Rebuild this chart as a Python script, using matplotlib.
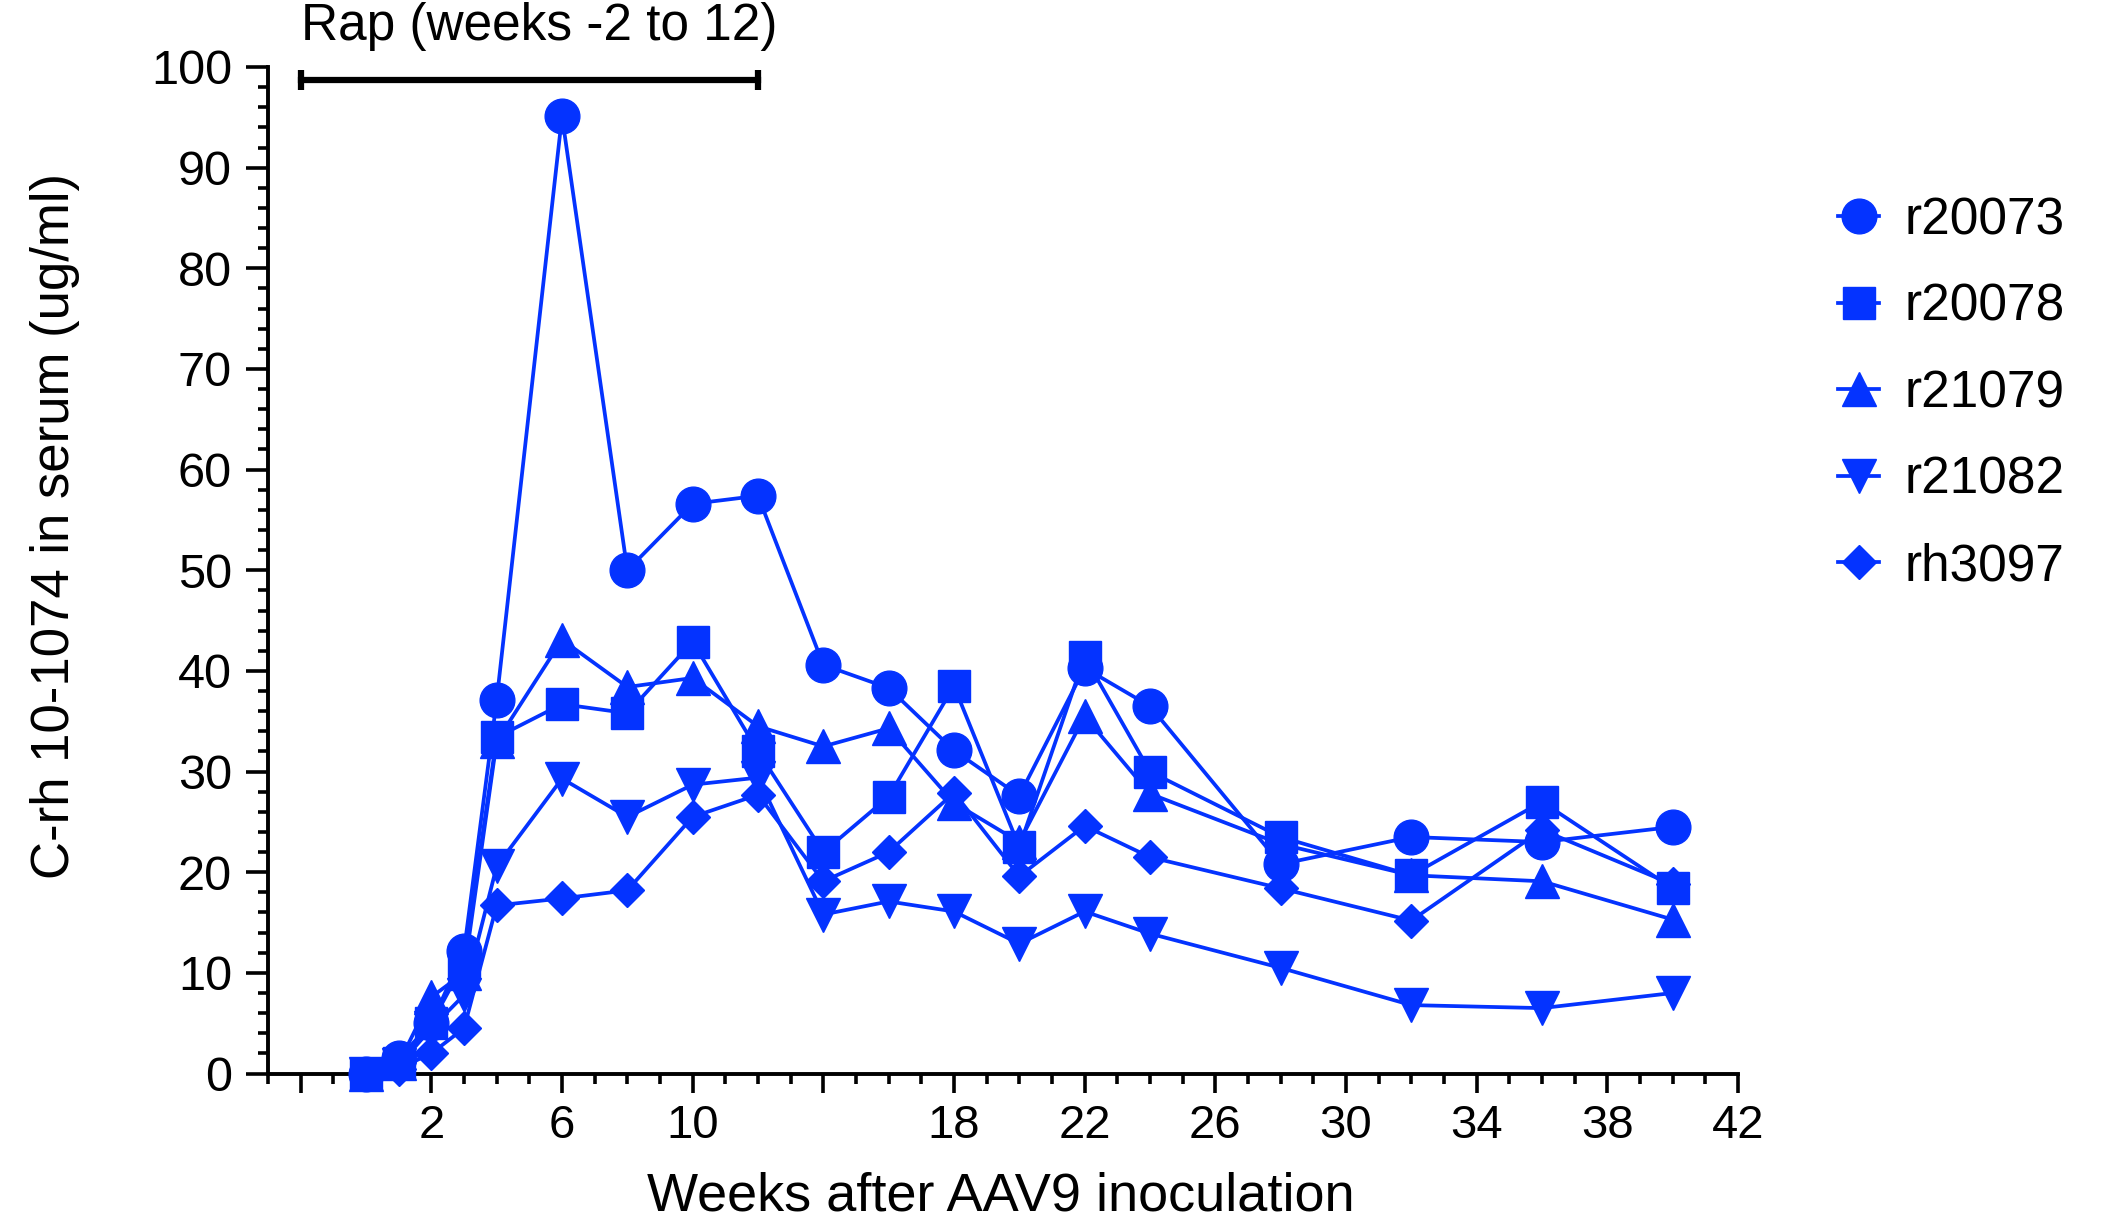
import matplotlib
matplotlib.use("Agg")
import matplotlib.pyplot as plt
from matplotlib.ticker import MultipleLocator, FixedLocator, FixedFormatter

plt.rcParams['font.family'] = ['Liberation Sans', 'DejaVu Sans']

# weeks after AAV9 inoculation
weeks = [0, 1, 2, 3, 4, 6, 8, 10, 12, 14, 16, 18, 20, 22, 24, 28, 32, 36, 40]

# C-rh 10-1074 in serum (ug/ml), one list per animal
r20073 = [0, 1.5, 5.0, 12.2, 37.1, 95.1, 50.0, 56.6, 57.4, 40.6, 38.3, 32.1, 27.6, 40.3, 36.5, 20.8, 23.5, 23.0, 24.5]
r20078 = [0, 1.0, 5.0, 11.0, 33.4, 36.7, 35.8, 42.9, 32.0, 22.0, 27.5, 38.5, 22.5, 41.4, 30.0, 23.5, 19.7, 27.0, 18.4]
r21079 = [0, 1.0, 7.6, 10.0, 33.0, 43.1, 38.4, 39.3, 34.5, 32.5, 34.3, 26.9, 23.0, 35.5, 27.8, 22.8, 19.7, 19.1, 15.3]
r21082 = [0, 0.8, 4.5, 7.8, 20.6, 29.3, 25.5, 28.7, 29.4, 15.8, 17.1, 16.1, 12.9, 16.1, 13.9, 10.5, 6.8, 6.5, 8.0]
rh3097 = [0, 0.5, 2.0, 4.5, 16.7, 17.4, 18.2, 25.5, 27.7, 19.1, 22.0, 27.9, 19.6, 24.6, 21.5, 18.4, 15.2, 24.2, 18.8]

animals = ['r20073', 'r20078', 'r21079', 'r21082', 'rh3097']
series = [r20073, r20078, r21079, r21082, rh3097]
markers = ['o', 's', '^', 'v', 'D']
msizes = [25, 23, 25, 25, 17]

# rapamycin window
rap_start, rap_end = -2, 12
rap_label = 'Rap (weeks -2 to 12)'

xtick_pos = list(range(-2, 43, 4))
xtick_lab = ['' if t in (-2, 14) else str(t) for t in xtick_pos]

blue = '#0433FF'

fig = plt.figure(figsize=(21.04, 12.18), dpi=100)
ax = fig.add_axes([0.1274, 0.1186, 0.6986, 0.8264])

handles = {}
# draw last animal first so r20073 sits on top
for name, ys, m, ms in reversed(list(zip(animals, series, markers, msizes))):
    h, = ax.plot(weeks, ys, color=blue, lw=2.7, marker=m, ms=ms,
                 mfc=blue, mec=blue, clip_on=False, zorder=3, label=name)
    handles[name] = h

ax.set_xlim(-3, 42)
ax.set_ylim(0, 100)

ax.xaxis.set_major_locator(FixedLocator(xtick_pos))
ax.xaxis.set_major_formatter(FixedFormatter(xtick_lab))
ax.xaxis.set_minor_locator(MultipleLocator(1))
ax.yaxis.set_major_locator(MultipleLocator(10))
ax.yaxis.set_minor_locator(MultipleLocator(2))

for s in ['top', 'right']:
    ax.spines[s].set_visible(False)
for s in ['left', 'bottom']:
    ax.spines[s].set_linewidth(2.8)

ax.tick_params(axis='x', which='major', length=14, width=2.6, labelsize=34, pad=8)
ax.tick_params(axis='x', which='minor', length=7, width=2.6)
ax.tick_params(axis='y', which='major', length=16, width=2.6, labelsize=35, pad=10)
ax.tick_params(axis='y', which='minor', length=7, width=2.6)

ax.set_xlabel('Weeks after AAV9 inoculation', fontsize=39)
ax.set_ylabel('C-rh 10-1074 in serum (ug/ml)', fontsize=38)
ax.xaxis.set_label_coords(0.4986, -0.097)
ax.yaxis.set_label_coords(-0.128, 0.544)

# Rap bar above the data
ax.plot([rap_start, rap_end], [98.7, 98.7], color='black', lw=4.5,
        marker='|', ms=15, mew=4.5, clip_on=False)
ax.text(rap_start, 104, rap_label, fontsize=37, ha='left', va='center', clip_on=False)

leg = ax.legend([handles[n] for n in animals], animals, loc='upper left',
                bbox_to_anchor=(0.8736, 0.839), bbox_transform=fig.transFigure,
                frameon=False, fontsize=37, handlelength=0.8, handletextpad=0.5,
                labelspacing=0.73, borderpad=0, borderaxespad=0)

fig.savefig('out.png', dpi=100)
